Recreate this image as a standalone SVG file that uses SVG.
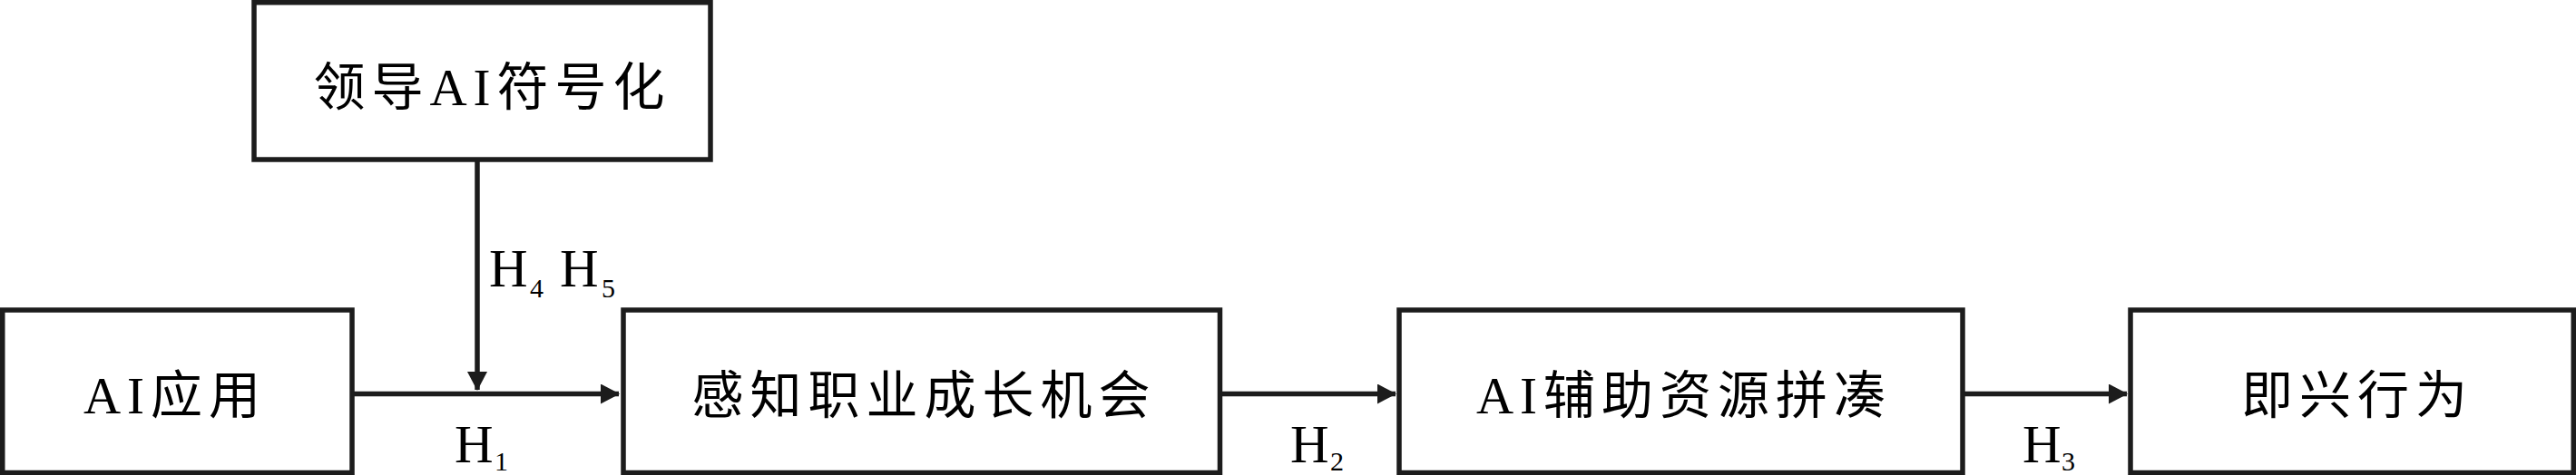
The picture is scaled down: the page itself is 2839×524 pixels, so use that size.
<svg xmlns="http://www.w3.org/2000/svg" width="2839" height="524" viewBox="0 0 2839 524">
<style>
.box{fill:#fff;stroke:#1c1c1c;stroke-width:5.5}
.lbl{font-family:"Noto Sans CJK SC","Noto Sans CJK JP",sans-serif;font-size:57px;fill:#000;text-anchor:middle;letter-spacing:7px}
.lat{font-family:"Liberation Serif","Times New Roman",serif}
.h{font-family:"Liberation Serif","Times New Roman",serif;font-size:59px;fill:#000}
.sub{font-size:30px}
.conn{stroke:#1c1c1c;stroke-width:5.5;fill:none}
</style>
<defs>
<marker id="arr" markerUnits="userSpaceOnUse" markerWidth="22" markerHeight="24" refX="20" refY="11" orient="auto">
<path d="M0,0 L21,11 L0,22 Z" fill="#1c1c1c"/>
</marker>
</defs>
<rect width="2839" height="524" fill="#fff"/>
<g id="connectors">
<path class="conn" d="M388,434.5 H682" marker-end="url(#arr)"/>
<path class="conn" d="M526,176 V430" marker-end="url(#arr)"/>
<path class="conn" d="M1344.5,434.5 H1538" marker-end="url(#arr)"/>
<path class="conn" d="M2163,434.5 H2344" marker-end="url(#arr)"/>
</g>
<g id="node-leader">
<rect class="box" x="280" y="2.75" width="503" height="173.25"/>
<text class="lbl" x="542.5" y="116">领导<tspan class="lat">AI</tspan>符号化</text>
</g>
<g id="node-ai-use">
<rect class="box" x="2.75" y="342" width="385.25" height="179.5"/>
<text class="lbl" x="193" y="456"><tspan class="lat">AI</tspan>应用</text>
</g>
<g id="node-perceive">
<rect class="box" x="687" y="342" width="657.5" height="179.5"/>
<text class="lbl" x="1018.5" y="456">感知职业成长机会</text>
</g>
<g id="node-bricolage">
<rect class="box" x="1542" y="342" width="621" height="179.5"/>
<text class="lbl" x="1856" y="456"><tspan class="lat">AI</tspan>辅助资源拼凑</text>
</g>
<g id="node-improv">
<rect class="box" x="2348" y="342" width="488.25" height="179.5"/>
<text class="lbl" x="2598" y="456">即兴行为</text>
</g>
<g id="labels">
<text class="h"><tspan x="539" y="316">H</tspan><tspan class="sub" x="584" y="328">4</tspan><tspan x="617" y="316">H</tspan><tspan class="sub" x="663" y="328">5</tspan></text>
<text class="h"><tspan x="501" y="510">H</tspan><tspan class="sub" x="545" y="519">1</tspan></text>
<text class="h"><tspan x="1422" y="510">H</tspan><tspan class="sub" x="1466" y="519">2</tspan></text>
<text class="h"><tspan x="2229" y="510">H</tspan><tspan class="sub" x="2272" y="519">3</tspan></text>
</g>
</svg>
